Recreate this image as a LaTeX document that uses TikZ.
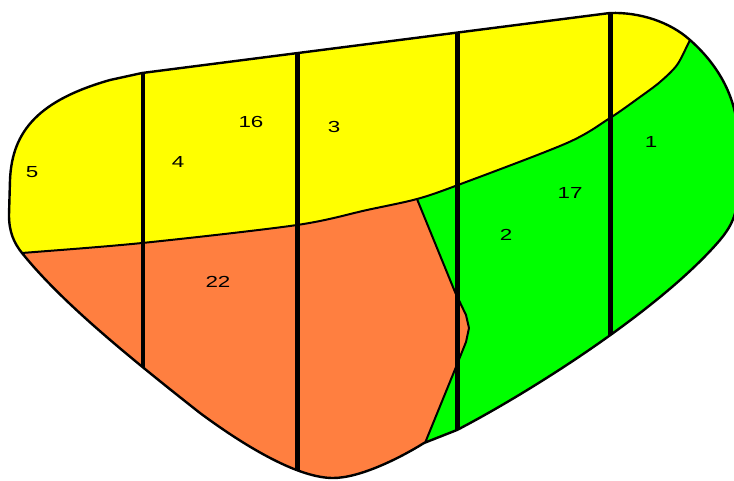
\documentclass[tikz,border=0pt]{standalone}
\usepackage{fontspec}
\newfontfamily\lblfont{Liberation Sans}
\usepackage{graphicx}
\definecolor{fyellow}{RGB}{255,255,0}
\definecolor{fgreen}{RGB}{0,255,0}
\definecolor{forange}{RGB}{255,127,64}
\tikzset{
  outlinestyle/.style={draw=black,line width=2.4pt,line join=round},
  boundstyle/.style={draw=black,line width=2pt,line join=round},
  rowline/.style={draw=black,line width=4.5pt},
  lbl/.style={font=\lblfont\fontsize{16}{16}\selectfont,inner sep=0pt}
}
\def\outlinepath{(142,73) -- (610,13)
  .. controls (640,12) and (670,22) .. (690,40)
  .. controls (715,62) and (738,95) .. (738,140)
  -- (738,190)
  .. controls (738,215) and (730,228) .. (720,240)
  .. controls (660,310) and (530,392) .. (457,430)
  -- (424,443)
  .. controls (400,458) and (360,478) .. (333,478)
  .. controls (300,478) and (250,450) .. (200,413)
  .. controls (120,350) and (60,300) .. (22,253)
  .. controls (14,243) and (9,232) .. (9,215)
  -- (10,180)
  .. controls (12,130) and (40,100) .. (110,80)
  -- cycle}
\def\yellowline{plot[smooth,tension=0.5] coordinates {(-5,255) (22,253) (142,243) (297,225) (367,210) (417,199) (458,185) (567,143) (610,118) (640,97) (660,82) (677,65) (689,42) (700,20)}}
\def\divline{(417,199) -- (455,292) -- (466,315) -- (469,328) -- (466,342) -- (456,367) -- (425,443) -- (400,500)}
\begin{document}
\begin{tikzpicture}[x=1pt,y=-1pt]
\useasboundingbox (0,0) rectangle (734,480);
% fills
\begin{scope}
  \clip \outlinepath;
  \fill[fyellow] (-10,-10) rectangle (760,500);
  \begin{scope}
    \clip \yellowline -- (760,0) -- (760,500) -- (-10,500) -- cycle;
    \fill[fgreen] (-10,-10) rectangle (760,500);
    \fill[forange] (-10,0) -- (405,0) -- (405,168) -- \divline -- (-10,500) -- cycle;
  \end{scope}
  \draw[boundstyle] \yellowline;
  \draw[boundstyle] \divline;
  % vertical rows
  \coordinate (r1t) at (143,0);   \coordinate (r1b) at (143,370);
  \coordinate (r2t) at (297.5,0); \coordinate (r2b) at (297.5,490);
  \coordinate (r3t) at (457.5,0); \coordinate (r3b) at (457.5,431);
  \coordinate (r4t) at (610.5,0); \coordinate (r4b) at (610.5,336);
  \draw[rowline] (r1t) -- (r1b);
  \draw[rowline] (r2t) -- (r2b);
  \draw[rowline] (r3t) -- (r3b);
  \draw[rowline] (r4t) -- (r4b);
\end{scope}
\draw[outlinestyle] \outlinepath;
% labels
\node[lbl] (l5)  at (32,172)  {\scalebox{1.4}[1]{5}};
\node[lbl] (l4)  at (178,162) {\scalebox{1.4}[1]{4}};
\node[lbl] (l16) at (251,122) {\scalebox{1.4}[1]{16}};
\node[lbl] (l3)  at (334,127) {\scalebox{1.4}[1]{3}};
\node[lbl] (l22) at (218,282) {\scalebox{1.4}[1]{22}};
\node[lbl] (l2)  at (506,235) {\scalebox{1.4}[1]{2}};
\node[lbl] (l17) at (570,193) {\scalebox{1.4}[1]{17}};
\node[lbl] (l1)  at (651,142) {\scalebox{1.4}[1]{1}};
\end{tikzpicture}
\end{document}
